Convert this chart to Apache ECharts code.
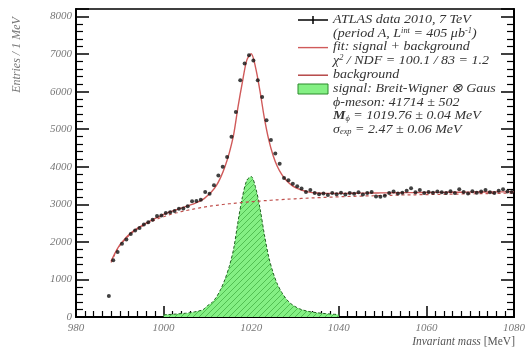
<!DOCTYPE html>
<html>
<head>
<meta charset="utf-8">
<script src="https://cdn.jsdelivr.net/npm/echarts@6/dist/echarts.min.js"></script>
<style>
  html, body { margin: 0; padding: 0; background: #fff; }
  #chart { width: 528px; height: 359px; }
</style>
</head>
<body>
<div id="chart"></div>
<script>
// histogram: 1 MeV bins, first centre at 987.5 MeV
var binStart = 987.5
var binWidth = 1
var entries = [
  560, 1510, 1730, 1950, 2060, 2210, 2300, 2370, 2460, 2520,
  2590, 2690, 2700, 2770, 2790, 2820, 2880, 2890, 2950, 3080,
  3090, 3120, 3330, 3280, 3510, 3770, 4000, 4260, 4800, 5460,
  6300, 6750, 6970, 6830, 6300, 5860, 5240, 4710, 4350, 4080,
  3700, 3640, 3550, 3480, 3420, 3330, 3380, 3300, 3270, 3290,
  3250, 3300, 3270, 3310, 3260, 3300, 3280, 3320, 3260, 3300,
  3330, 3210, 3200, 3230, 3300, 3340, 3290, 3310, 3360, 3430,
  3320, 3380, 3300, 3330, 3310, 3340, 3320, 3300, 3350, 3300,
  3400, 3330, 3290, 3350, 3310, 3340, 3380, 3320, 3300, 3360,
  3400, 3340, 3330
]

// fit curves sampled every 1 MeV
var curveStart = 988
var fitTotal = [
  1480, 1720, 1920, 2060, 2180, 2280, 2360, 2430, 2500, 2560,
  2620, 2670, 2730, 2780, 2820, 2860, 2900, 2940, 2980, 3020,
  3070, 3130, 3230, 3340, 3490, 3710, 4000, 4370, 4860, 5600,
  6260, 6840, 7010, 6640, 6020, 5300, 4720, 4300, 4000, 3790,
  3640, 3530, 3450, 3400, 3360, 3330, 3310, 3300, 3295, 3290,
  3290, 3290, 3290, 3292, 3293, 3295, 3296, 3298, 3299, 3300,
  3302, 3303, 3304, 3305, 3306, 3308, 3309, 3310, 3311, 3312,
  3313, 3314, 3315, 3316, 3317, 3318, 3319, 3320, 3321, 3322,
  3323, 3324, 3325, 3326, 3327, 3328, 3328, 3329, 3330, 3331,
  3332, 3333, 3334
]
var background = [
  1450, 1700, 1900, 2040, 2160, 2260, 2340, 2410, 2470, 2530,
  2580, 2630, 2670, 2710, 2745, 2775, 2805, 2830, 2855, 2878,
  2900, 2920, 2940, 2957, 2973, 2988, 3002, 3015, 3027, 3038,
  3049, 3059, 3069, 3078, 3087, 3096, 3104, 3112, 3120, 3127,
  3134, 3141, 3147, 3153, 3159, 3165, 3170, 3175, 3180, 3185,
  3190, 3195, 3200, 3204, 3208, 3212, 3216, 3219, 3222, 3225,
  3228, 3231, 3234, 3237, 3240, 3243, 3246, 3249, 3251, 3253,
  3255, 3257, 3259, 3261, 3263, 3265, 3267, 3269, 3271, 3273,
  3275, 3277, 3279, 3281, 3283, 3285, 3287, 3289, 3291, 3293,
  3295, 3297, 3299
]
// signal (Breit-Wigner x Gaus), drawn from 1000 to 1040 MeV
var signalStart = 1000
var signal = [
  60, 65, 72, 80, 90, 100, 115, 135, 160, 195,
  300, 380, 520, 730, 1000, 1350, 1820, 2550, 3200, 3640,
  3740, 3450, 2900, 2200, 1600, 1180, 870, 650, 480, 360,
  280, 220, 180, 150, 130, 115, 100, 90, 80, 72,
  65
]

var xTicks = { min: 980, max: 1080, step: 20 }
var yTicks = { min: 0, max: 8200, step: 1000 }

function pairs(start, step, values) {
  return values.map(function (v, i) { return [start + i * step, v] })
}

// hatched green fill
var hatch = document.createElement('canvas')
hatch.width = 6
hatch.height = 6
var hctx = hatch.getContext('2d')
hctx.fillStyle = '#84f084'
hctx.fillRect(0, 0, 6, 6)
hctx.strokeStyle = '#45b345'
hctx.lineWidth = 0.8
hctx.beginPath()
hctx.moveTo(0, 6); hctx.lineTo(6, 0)
hctx.moveTo(-1, 1); hctx.lineTo(1, -1)
hctx.moveTo(5, 7); hctx.lineTo(7, 5)
hctx.stroke()

var serif = 'Liberation Serif'
var labelStyle = {
  fontFamily: serif, fontStyle: 'italic', fontSize: 11, color: '#777',
  formatter: function (v) { return String(v) }
}
var textColor = '#333'
var legendX = 333
var legendFont = 12.5
var rowY = [20, 33.8, 47.6, 61.4, 75.2, 89, 102.8, 116.6, 130.4]

function legendText(i, text, rich) {
  return {
    type: 'text', x: legendX, y: rowY[i] - 7, scaleX: 1.12,
    style: {
      text: text, fontFamily: serif, fontStyle: 'italic', fontSize: legendFont,
      fill: textColor, rich: rich || {}
    }
  }
}
var supRich = {
  sup: { fontFamily: serif, fontStyle: 'italic', fontSize: 7.5, fill: textColor, verticalAlign: 'top', padding: [0, 0, 5, 0] },
  sub: { fontFamily: serif, fontStyle: 'italic', fontSize: 7.5, fill: textColor, verticalAlign: 'bottom', padding: [5, 0, 0, 0] },
  b: { fontFamily: serif, fontStyle: 'italic', fontWeight: 'bold', fontSize: legendFont, fill: textColor }
}

var chart = echarts.init(document.getElementById('chart'))

var axisCommon = {
  type: 'value',
  axisLine: { show: true, onZero: false, lineStyle: { color: '#000', width: 2 } },
  splitLine: { show: false }
}

chart.setOption({
  animation: false,
  grid: {
    left: 76, right: 14, top: 9, bottom: 42,
    show: true, borderColor: '#000', borderWidth: 1.5
  },
  xAxis: [Object.assign({}, axisCommon, {
    min: xTicks.min, max: xTicks.max, interval: xTicks.step,
    axisTick: { inside: true, length: 11, lineStyle: { color: '#000', width: 1.5 } },
    minorTick: { show: true, splitNumber: 10, length: 6, lineStyle: { color: '#000', width: 1.2 } },
    axisLabel: Object.assign({ margin: 6 }, labelStyle)
  })],
  yAxis: [Object.assign({}, axisCommon, {
    min: yTicks.min, max: yTicks.max, interval: yTicks.step,
    axisTick: { inside: true, length: 13, lineStyle: { color: '#000', width: 1.5 } },
    minorTick: { show: true, splitNumber: 5, length: 7, lineStyle: { color: '#000', width: 1.2 } },
    axisLabel: Object.assign({ margin: 4, showMaxLabel: false }, labelStyle)
  }), Object.assign({}, axisCommon, {
    position: 'right',
    min: yTicks.min, max: yTicks.max, interval: yTicks.step,
    axisTick: { inside: true, length: 13, lineStyle: { color: '#000', width: 1.5 } },
    minorTick: { show: true, splitNumber: 5, length: 7, lineStyle: { color: '#000', width: 1.2 } },
    axisLabel: { show: false }
  })],
  series: [
    {
      name: 'signal',
      type: 'line',
      data: pairs(signalStart, 1, signal),
      smooth: 0.3,
      symbol: 'none',
      lineStyle: { color: '#1f5f1f', width: 1, type: [3, 2] },
      areaStyle: { color: { image: hatch, repeat: 'repeat' }, opacity: 1 },
      z: 2
    },
    {
      name: 'background',
      type: 'line',
      data: pairs(curveStart, 1, background),
      smooth: 0.3,
      symbol: 'none',
      lineStyle: { color: '#c0504d', width: 1.2, type: [3, 3] },
      z: 3
    },
    {
      name: 'fit',
      type: 'line',
      data: pairs(curveStart, 1, fitTotal),
      smooth: 0.3,
      symbol: 'none',
      lineStyle: { color: '#d05a5a', width: 1.4 },
      z: 4
    },
    {
      name: 'data',
      type: 'scatter',
      data: pairs(binStart, binWidth, entries),
      symbol: 'circle',
      symbolSize: 4,
      itemStyle: { color: '#111' },
      z: 5
    }
  ],
  graphic: [
    // axis titles
    {
      type: 'text', x: 17, y: 55, rotation: Math.PI / 2,
      style: {
        text: 'Entries / 1 MeV', fontFamily: serif, fontStyle: 'italic', fontSize: 12,
        fill: '#777', align: 'center', verticalAlign: 'middle'
      }
    },
    {
      type: 'text', right: 13, top: 336,
      style: {
        text: '{i|Invariant mass} [MeV]', fontFamily: serif, fontSize: 11.5, fill: '#555',
        rich: { i: { fontFamily: serif, fontStyle: 'italic', fontSize: 11.5, fill: '#555' } }
      }
    },
    // legend markers
    { type: 'line', shape: { x1: 298, y1: rowY[0], x2: 328, y2: rowY[0] }, style: { stroke: '#000', lineWidth: 1.5 } },
    { type: 'line', shape: { x1: 313, y1: rowY[0] - 4, x2: 313, y2: rowY[0] + 4 }, style: { stroke: '#000', lineWidth: 1.5 } },
    { type: 'line', shape: { x1: 298, y1: rowY[2], x2: 328, y2: rowY[2] }, style: { stroke: '#d05a5a', lineWidth: 1.4 } },
    { type: 'line', shape: { x1: 298, y1: rowY[4], x2: 328, y2: rowY[4] }, style: { stroke: '#b03a3a', lineWidth: 1.4 } },
    { type: 'rect', shape: { x: 298, y: rowY[5] - 5, width: 30, height: 10 }, style: { fill: '#84f084', stroke: '#2a8a2a', lineWidth: 1 } },
    // legend texts
    legendText(0, 'ATLAS data 2010, 7 TeV'),
    legendText(1, '(period A, L{sup|int} = 405 μb{sup|-1})', supRich),
    legendText(2, 'fit: signal + background'),
    legendText(3, 'χ{sup|2} / NDF = 100.1 / 83 = 1.2', supRich),
    legendText(4, 'background'),
    legendText(5, 'signal: Breit-Wigner ⊗ Gaus'),
    legendText(6, 'ϕ-meson: 41714 ± 502'),
    legendText(7, '{b|M}{sub|ϕ} = 1019.76 ± 0.04 MeV', supRich),
    legendText(8, 'σ{sub|exp} = 2.47 ± 0.06 MeV', supRich)
  ]
})
</script>
</body>
</html>
